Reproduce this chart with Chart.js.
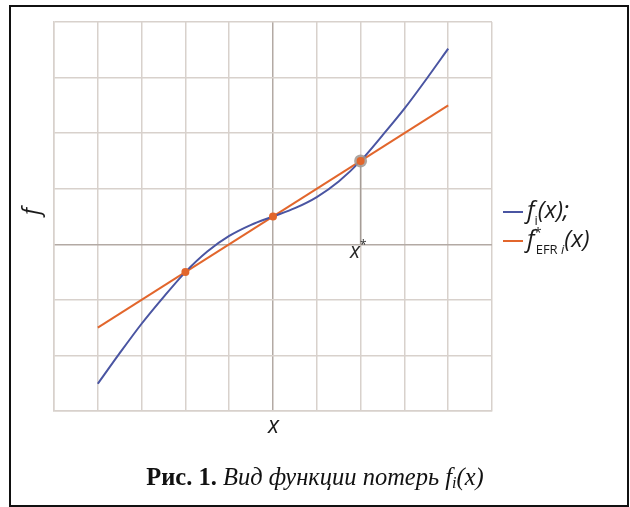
<!DOCTYPE html>
<html>
<head>
<meta charset="utf-8">
<script src="https://cdn.jsdelivr.net/npm/chart.js@4.4.1/dist/chart.umd.min.js"></script>
<style>
  html, body { margin: 0; padding: 0; background: #ffffff; }
  #wrap { position: relative; width: 630px; height: 507px; overflow: hidden; }
  #frame { position: absolute; left: 9px; top: 5px; width: 616px; height: 498px; border: 2px solid #111; box-sizing: content-box; }
  canvas { position: absolute; left: 0; top: 0; }
  .lbl { position: absolute; font-family: "Open Sans", "Liberation Sans", sans-serif; font-style: italic; color: #1a1a1a; white-space: nowrap; line-height: 1; }
  .sub { font-size: 13px; font-style: normal; position: relative; top: 7px; }
  .sup { font-size: 13px; font-style: normal; position: relative; top: -10px; }
  .leg { position: absolute; height: 2px; width: 20px; }
  #caption { position: absolute; left: 0; width: 630px; top: 463px; text-align: center; font-family: "Liberation Serif", "Times New Roman", serif; font-size: 24.5px; color: #111; white-space: nowrap; }
  #caption b { font-weight: bold; }
  #caption i { font-style: italic; }
  #caption .cs { font-size: 16px; position: relative; top: 3px; }
</style>
</head>
<body>
<div id="wrap">
  <canvas id="c" width="630" height="507"></canvas>
  <div id="frame"></div>
  <div class="lbl" style="left:27px; top:200px; font-size:23px; transform: rotate(-90deg); transform-origin: center;">f</div>
  <div class="lbl" style="left:268px; top:413px; font-size:23px;">x</div>
  <div class="lbl" style="left:350px; top:240px; font-size:21px; color:#2a2a2a;">x<span style="font-size:12px; font-style:normal; position:relative; top:-9px;">*</span></div>
  <div class="leg" style="left:503px; top:211px; background:#4a55a2;"></div>
  <div class="lbl" style="left:527px; top:197px; font-size:24px;">f<span class="sub">i</span>(x);</div>
  <div class="leg" style="left:503px; top:240px; background:#e2662c;"></div>
  <div class="lbl" style="left:527px; top:226px; font-size:24px;">f<span class="sup">*</span><span class="sub" style="margin-left:-6px;">EFR <i>i</i></span>(x)</div>
  <div id="caption"><b>Рис. 1.</b> <i>Вид функции потерь f<span class="cs">i</span>(x)</i></div>
</div>
<script>
// ---- data ----
const curveX = [-4, -3.5, -3, -2.5, -2, -1.5, -1, -0.5, 0, 0.5, 1, 1.5, 2, 2.5, 3, 3.5, 4];
const curveF = [-2.51, -1.96, -1.43, -0.95, -0.5, -0.13, 0.15, 0.35, 0.5, 0.65, 0.85, 1.13, 1.5, 1.96, 2.44, 2.97, 3.52];
const tangentX = [-4, 4];
const tangentF = [-1.5, 2.5];
const markX = [-2, 0, 2];
const markF = [-0.5, 0.5, 1.5];
const xStar = 2;
const xStarF = 1.5;
const xRange = [-5, 5];
const yRange = [-3, 4];

const toPts = (xs, ys) => xs.map((x, i) => ({ x: x, y: ys[i] }));

const gridColor = (ctx) => (ctx.tick && ctx.tick.value === 0) ? '#b3aaa4' : '#d8d1cc';

new Chart(document.getElementById('c'), {
  type: 'scatter',
  data: {
    datasets: [
      { data: [{ x: xStar, y: xStarF }, { x: xStar, y: 0 }], showLine: true, borderColor: '#a69d97', borderWidth: 1.5, pointRadius: 0, order: 5 },
      { data: toPts(tangentX, tangentF), showLine: true, borderColor: '#e2662c', borderWidth: 2, pointRadius: 0, order: 4 },
      { data: toPts(curveX, curveF), showLine: true, borderColor: '#4a55a2', borderWidth: 2, pointRadius: 0, tension: 0.3, order: 3 },
      { data: [{ x: xStar, y: xStarF }], backgroundColor: 'rgba(160,150,145,0.85)', borderWidth: 0, pointRadius: 6.5, order: 2 },
      { data: toPts(markX, markF), backgroundColor: '#e2662c', borderWidth: 0, pointRadius: 4, order: 1 }
    ]
  },
  options: {
    responsive: false,
    animation: false,
    events: [],
    layout: { padding: { left: 54, top: 22, right: 138, bottom: 96 } },
    plugins: { legend: { display: false }, tooltip: { enabled: false } },
    scales: {
      x: {
        type: 'linear', min: xRange[0], max: xRange[1],
        ticks: { display: false, stepSize: 1 },
        grid: { color: gridColor, lineWidth: 1.5, drawTicks: false },
        border: { display: true, color: '#d8d1cc', width: 1.5 }
      },
      y: {
        type: 'linear', min: yRange[0], max: yRange[1],
        ticks: { display: false, stepSize: 1 },
        grid: { color: gridColor, lineWidth: 1.5, drawTicks: false },
        border: { display: true, color: '#d8d1cc', width: 1.5 }
      }
    }
  }
});
</script>
</body>
</html>
